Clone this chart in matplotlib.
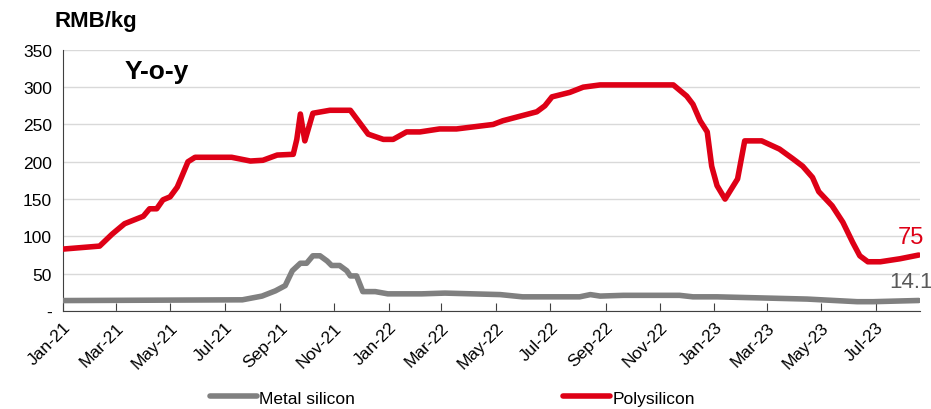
import matplotlib
matplotlib.use('Agg')

import numpy as np
import pandas as pd
import matplotlib.pyplot as plt
import matplotlib.dates as mdates
from matplotlib import font_manager

# polysilicon price, RMB/kg
poly_dates = ['2021-01-01', '2021-02-11', '2021-02-25', '2021-03-11', '2021-04-01',
              '2021-04-08', '2021-04-16', '2021-04-23', '2021-05-01', '2021-05-09',
              '2021-05-14', '2021-05-21', '2021-05-29', '2021-07-09', '2021-07-30',
              '2021-08-13', '2021-08-29', '2021-09-16', '2021-09-20', '2021-09-24',
              '2021-09-29', '2021-10-08', '2021-10-27', '2021-11-19', '2021-12-09',
              '2021-12-26', '2022-01-06', '2022-01-21', '2022-02-05', '2022-02-27',
              '2022-03-18', '2022-04-28', '2022-05-09', '2022-06-16', '2022-06-25',
              '2022-07-03', '2022-07-23', '2022-08-07', '2022-08-26', '2022-11-16',
              '2022-12-01', '2022-12-08', '2022-12-16', '2022-12-24', '2022-12-29',
              '2023-01-04', '2023-01-13', '2023-01-27', '2023-02-04', '2023-02-23',
              '2023-03-15', '2023-03-30', '2023-04-10', '2023-04-21', '2023-04-28',
              '2023-05-13', '2023-05-25', '2023-06-05', '2023-06-13', '2023-06-22',
              '2023-07-06', '2023-07-28', '2023-08-18']
poly_vals = [83, 87, 103, 117, 127,
             137, 137, 149, 153, 166,
             180, 200, 206, 206, 201,
             202, 209, 210, 230, 264,
             228, 265, 269, 269, 237,
             230, 230, 240, 240, 244,
             244, 250, 255, 267, 275,
             287, 293, 300, 303, 303,
             288, 277, 255, 240, 194,
             168, 150, 177, 228, 228,
             217, 204, 194, 179, 160,
             141, 119, 92, 74, 66,
             66, 70, 75]

# metal silicon price, RMB/kg
metal_dates = ['2021-01-01', '2021-07-21', '2021-08-12', '2021-08-27', '2021-09-07',
               '2021-09-15', '2021-09-24', '2021-10-01', '2021-10-08', '2021-10-16',
               '2021-10-24', '2021-10-29', '2021-11-07', '2021-11-15', '2021-11-19',
               '2021-11-26', '2021-12-03', '2021-12-17', '2021-12-31', '2022-02-07',
               '2022-03-05', '2022-05-06', '2022-05-31', '2022-08-03', '2022-08-15',
               '2022-08-26', '2022-09-21', '2022-11-23', '2022-12-08', '2023-01-04',
               '2023-04-15', '2023-06-10', '2023-06-28', '2023-08-18']
metal_vals = [14, 15, 20, 27, 34,
              54, 64, 64, 74, 74,
              67, 61, 61, 54, 47,
              47, 26, 26, 23, 23,
              24, 22, 19, 19, 22,
              20, 21, 21, 19, 19,
              16, 12.5, 12.5, 14.1]

yticks = [0, 50, 100, 150, 200, 250, 300, 350]
ytick_labels = ['-', '50', '100', '150', '200', '250', '300', '350']

RED = '#DE0016'
GREY = '#808080'

names = [f.name for f in font_manager.fontManager.ttflist]
if 'Liberation Sans Narrow' in names:
    FONT = ['Liberation Sans Narrow', 'DejaVu Sans']
    FS = 13.5
else:
    FONT = ['Liberation Sans', 'DejaVu Sans']
    FS = 12
plt.rcParams['font.family'] = FONT

fig = plt.figure(figsize=(9.31, 4.10), dpi=100)
ax = fig.add_axes([0.0677, 0.239, 0.921, 0.637])

pd_poly = pd.to_datetime(poly_dates)
pd_metal = pd.to_datetime(metal_dates)

l1, = ax.plot(pd_metal, metal_vals, color=GREY, lw=4, solid_capstyle='round',
              solid_joinstyle='round', label='Metal silicon', zorder=3)
l2, = ax.plot(pd_poly, poly_vals, color=RED, lw=4, solid_capstyle='round',
              solid_joinstyle='round', label='Polysilicon', zorder=3)

ax.set_ylim(0, 350)
ax.set_xlim(pd.Timestamp('2021-01-01'), pd.Timestamp('2023-08-20'))
ax.set_yticks(yticks)
ax.set_yticklabels(ytick_labels, fontsize=FS + 0.5)
ax.yaxis.grid(True, color='#D9D9D9', lw=1)
ax.set_axisbelow(True)

ax.xaxis.set_major_locator(mdates.MonthLocator(bymonth=[1, 3, 5, 7, 9, 11]))
ax.xaxis.set_major_formatter(mdates.DateFormatter('%b-%y'))
plt.setp(ax.get_xticklabels(), rotation=45, ha='right', rotation_mode='anchor',
         fontsize=FS + 0.5)

ax.tick_params(axis='y', length=0, pad=8)
ax.tick_params(axis='x', direction='in', length=6, color='#404040', pad=6)
for s in ['top', 'right']:
    ax.spines[s].set_visible(False)
ax.spines['left'].set_color('#404040')
ax.spines['bottom'].set_color('#404040')

ax.annotate('75', (pd_poly[-1], poly_vals[-1]), xytext=(4, 5),
            textcoords='offset points', ha='right', va='bottom', color=RED,
            fontsize=FS + 5)
ax.annotate('14.1', (pd_metal[-1], metal_vals[-1]), xytext=(10, 6),
            textcoords='offset points', ha='right', va='bottom', color='#595959',
            fontsize=FS + 4)

fig.text(0.059, 0.922, 'RMB/kg', fontsize=FS + 4, fontweight='bold', ha='left', va='bottom')
ax.text(0.072, 0.965, 'Y-o-y', transform=ax.transAxes, fontsize=FS + 7,
        fontweight='bold', ha='left', va='top')

fig.legend(handles=[l1, l2], loc='center', bbox_to_anchor=(0.486, 0.027), ncol=2,
           frameon=False, fontsize=FS + 0.5, handlelength=2.7, handletextpad=0.15,
           columnspacing=12.0)

fig.savefig('out.png', dpi=100)
